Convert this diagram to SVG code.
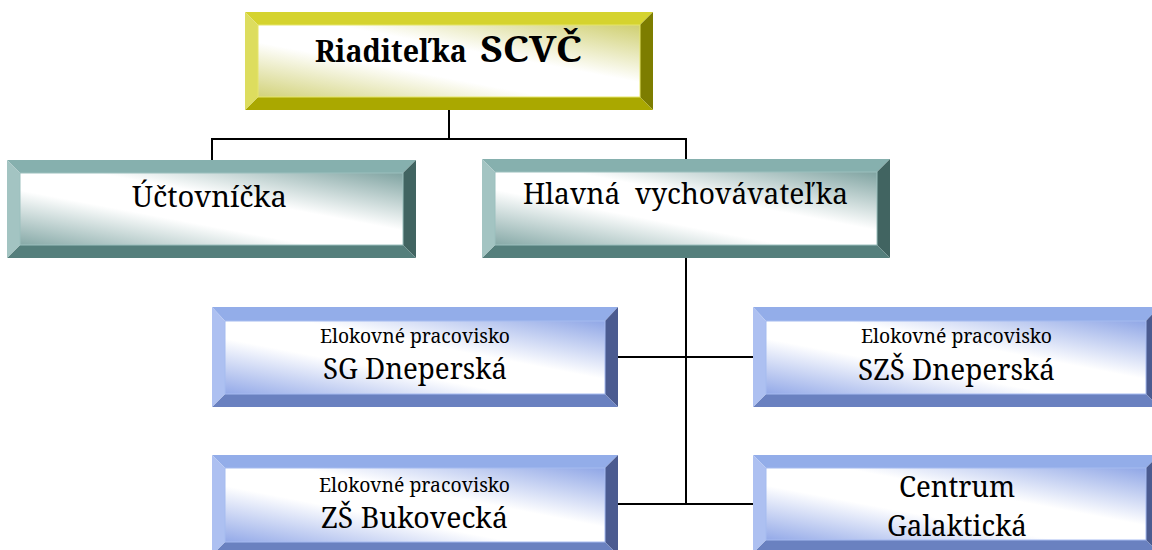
<svg xmlns="http://www.w3.org/2000/svg" width="1152" height="550" viewBox="0 0 1152 550">
<style>
text{font-family:"Noto Serif","DejaVu Serif",serif;fill:#000;text-anchor:middle;white-space:pre}
.big{font-size:29px}
.sm{font-size:19.5px}
.hd{font-weight:bold;text-anchor:start}
.conn{fill:none;stroke:#000;stroke-width:2}
.y .t{fill:#d5d32e}.y .l{fill:#dddd5e}.y .r{fill:#7d7d00}.y .b{fill:#aaa800}.y .f{fill:url(#gy);stroke:#e6e66a;stroke-width:1}
.g .t{fill:#86b0ae}.g .l{fill:#a3c4c2}.g .r{fill:#416461}.g .b{fill:#557f7c}.g .f{fill:url(#gg);stroke:#9cc0be;stroke-width:1}
.u .t{fill:#93ade9}.u .l{fill:#adc0f1}.u .r{fill:#4b5b90}.u .b{fill:#6a81c0}.u .f{fill:url(#gu);stroke:#a6bbf0;stroke-width:1}
</style>
<defs>
<linearGradient id="gy" x1="1" y1="0" x2="0" y2="1">
<stop offset="0" stop-color="#cfcf70"/><stop offset="0.4" stop-color="#ffffff"/><stop offset="0.62" stop-color="#ffffff"/><stop offset="1" stop-color="#d2d27a"/>
</linearGradient>
<linearGradient id="gg" x1="1" y1="0" x2="0" y2="1">
<stop offset="0" stop-color="#7fa3a1"/><stop offset="0.4" stop-color="#ffffff"/><stop offset="0.62" stop-color="#ffffff"/><stop offset="1" stop-color="#86a9a7"/>
</linearGradient>
<linearGradient id="gu" x1="1" y1="0" x2="0" y2="1">
<stop offset="0" stop-color="#8fa6e6"/><stop offset="0.4" stop-color="#ffffff"/><stop offset="0.62" stop-color="#ffffff"/><stop offset="1" stop-color="#93a9e8"/>
</linearGradient>
</defs>

<g id="connectors">
<path class="conn" d="M449,110 V139"/>
<path class="conn" d="M212,160 V139 H686 V159"/>
<path class="conn" d="M686,258 V504"/>
<path class="conn" d="M618,357 H753"/>
<path class="conn" d="M618,504 H753"/>
</g>

<g id="riaditelka" class="y">
<polygon class="t" points="245,12 653,12 640,25 258,25"/>
<polygon class="r" points="653,12 653,110 640,97 640,25"/>
<polygon class="b" points="245,110 653,110 640,97 258,97"/>
<polygon class="l" points="245,12 258,25 258,97 245,110"/>
<rect class="f" x="258" y="25" width="382" height="72"/>
<text class="hd" x="315" y="62" font-size="30" textLength="152" lengthAdjust="spacingAndGlyphs">Riaditeľka</text>
<text class="hd" x="480" y="62" font-size="37" textLength="102" lengthAdjust="spacingAndGlyphs">SCVČ</text>
</g>

<g id="uctovnicka" class="g">
<polygon class="t" points="7,160 416,160 403,173 20,173"/>
<polygon class="r" points="416,160 416,258 403,245 403,173"/>
<polygon class="b" points="7,258 416,258 403,245 20,245"/>
<polygon class="l" points="7,160 20,173 20,245 7,258"/>
<rect class="f" x="20" y="173" width="383" height="72"/>
<text class="big" x="209.5" y="207" textLength="155" lengthAdjust="spacingAndGlyphs">Účtovníčka</text>
</g>

<g id="hlavna" class="g">
<polygon class="t" points="482,159 890,159 877,172 495,172"/>
<polygon class="r" points="890,159 890,258 877,245 877,172"/>
<polygon class="b" points="482,258 890,258 877,245 495,245"/>
<polygon class="l" points="482,159 495,172 495,245 482,258"/>
<rect class="f" x="495" y="172" width="382" height="73"/>
<text class="big" x="685.5" y="204" textLength="325" lengthAdjust="spacingAndGlyphs">Hlavná  vychovávateľka</text>
</g>

<g id="sg-dneperska" class="u">
<polygon class="t" points="212,307 618,307 605,321 225,321"/>
<polygon class="r" points="618,307 618,407 605,394 605,321"/>
<polygon class="b" points="212,407 618,407 605,394 225,394"/>
<polygon class="l" points="212,307 225,321 225,394 212,407"/>
<rect class="f" x="225" y="321" width="380" height="73"/>
<text class="sm" x="415" y="343" textLength="190" lengthAdjust="spacingAndGlyphs">Elokovné pracovisko</text>
<text class="big" x="415" y="379" textLength="184" lengthAdjust="spacingAndGlyphs">SG Dneperská</text>
</g>

<g id="szs-dneperska" class="u">
<polygon class="t" points="753,307 1159,307 1146,321 766,321"/>
<polygon class="r" points="1159,307 1159,407 1146,394 1146,321"/>
<polygon class="b" points="753,407 1159,407 1146,394 766,394"/>
<polygon class="l" points="753,307 766,321 766,394 753,407"/>
<rect class="f" x="766" y="321" width="380" height="73"/>
<text class="sm" x="956.5" y="343" textLength="191" lengthAdjust="spacingAndGlyphs">Elokovné pracovisko</text>
<text class="big" x="956.5" y="380" textLength="197" lengthAdjust="spacingAndGlyphs">SZŠ Dneperská</text>
</g>

<g id="zs-bukovecka" class="u">
<polygon class="t" points="212,455 618,455 605,468 225,468"/>
<polygon class="r" points="618,455 618,555 605,542 605,468"/>
<polygon class="b" points="212,555 618,555 605,542 225,542"/>
<polygon class="l" points="212,455 225,468 225,542 212,555"/>
<rect class="f" x="225" y="468" width="380" height="74"/>
<text class="sm" x="414.5" y="492" textLength="191" lengthAdjust="spacingAndGlyphs">Elokovné pracovisko</text>
<text class="big" x="414.5" y="528" textLength="187" lengthAdjust="spacingAndGlyphs">ZŠ Bukovecká</text>
</g>

<g id="centrum-galakticka" class="u">
<polygon class="t" points="753,455 1159,455 1146,468 766,468"/>
<polygon class="r" points="1159,455 1159,553 1146,540 1146,468"/>
<polygon class="b" points="753,553 1159,553 1146,540 766,540"/>
<polygon class="l" points="753,455 766,468 766,540 753,553"/>
<rect class="f" x="766" y="468" width="380" height="72"/>
<text class="big" x="957" y="497" textLength="116" lengthAdjust="spacingAndGlyphs">Centrum</text>
<text class="big" x="957" y="536" textLength="140" lengthAdjust="spacingAndGlyphs">Galaktická</text>
</g>
</svg>
